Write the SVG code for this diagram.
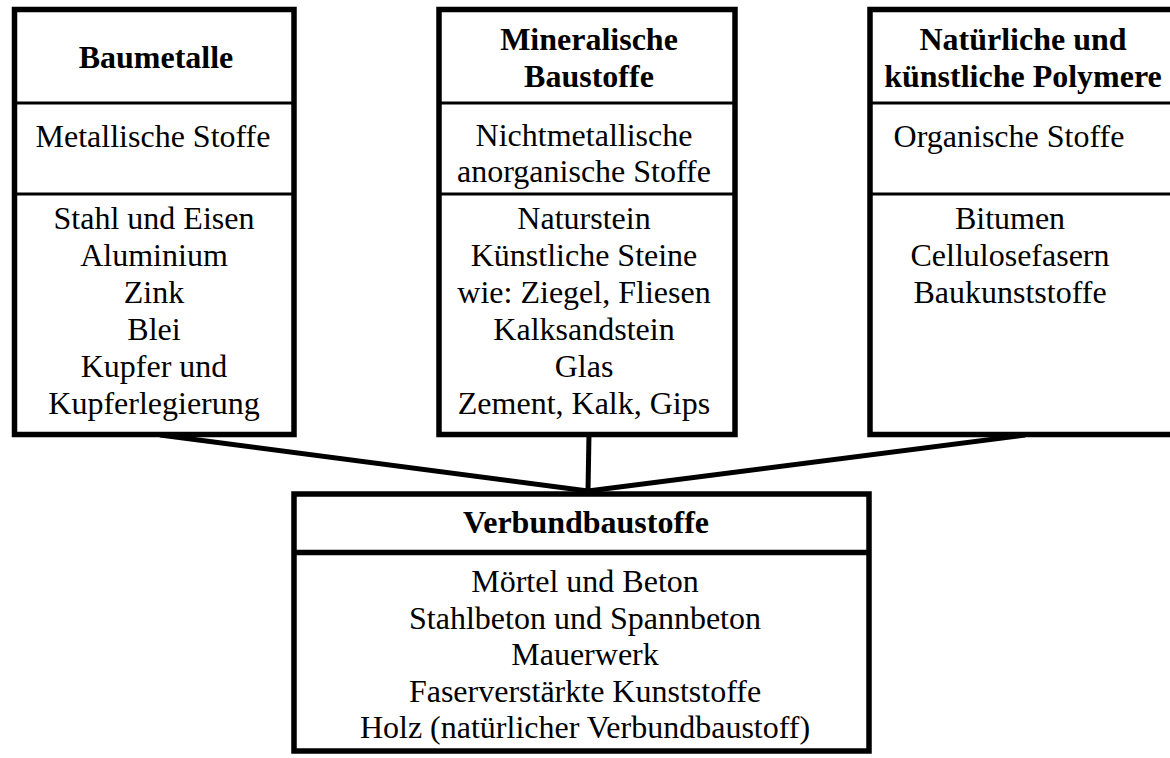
<svg xmlns="http://www.w3.org/2000/svg" width="1170" height="758" viewBox="0 0 1170 758">
<style>
.box{fill:#fff;stroke:#000;stroke-width:5.5}
.div{stroke:#000;stroke-width:3}
.divb{stroke:#000;stroke-width:5.5}
.con{stroke:#000;stroke-width:5;fill:none}
text{font-family:"Liberation Serif","Times New Roman",serif;font-size:32px;fill:#000;text-anchor:middle}
.h{font-weight:bold}
</style>
<rect width="1170" height="758" fill="#fff"/>
<g id="connectors">
<line class="con" x1="160" y1="435" x2="588" y2="491"/>
<line class="con" x1="589" y1="434" x2="588" y2="491"/>
<line class="con" x1="1025" y1="435" x2="588" y2="491"/>
</g>
<g id="baumetalle">
<rect class="box" x="14.5" y="9.5" width="279.5" height="425"/>
<line class="div" x1="14.5" y1="103" x2="294" y2="103"/>
<line class="div" x1="14.5" y1="194" x2="294" y2="194"/>
<text class="h" x="156" y="68">Baumetalle</text>
<text x="153" y="147">Metallische Stoffe</text>
<text x="154" y="229">Stahl und Eisen</text>
<text x="154" y="266">Aluminium</text>
<text x="154" y="303">Zink</text>
<text x="154" y="340">Blei</text>
<text x="154" y="377">Kupfer und</text>
<text x="154" y="414">Kupferlegierung</text>
</g>
<g id="mineralische">
<rect class="box" x="439" y="9.5" width="296" height="425"/>
<line class="div" x1="439" y1="103" x2="735" y2="103"/>
<line class="div" x1="439" y1="194" x2="735" y2="194"/>
<text class="h" x="589" y="50">Mineralische</text>
<text class="h" x="589" y="87">Baustoffe</text>
<text x="584" y="146">Nichtmetallische</text>
<text x="584" y="182">anorganische Stoffe</text>
<text x="584" y="229">Naturstein</text>
<text x="584" y="266">Künstliche Steine</text>
<text x="584" y="303">wie: Ziegel, Fliesen</text>
<text x="584" y="340">Kalksandstein</text>
<text x="584" y="377">Glas</text>
<text x="584" y="414">Zement, Kalk, Gips</text>
</g>
<g id="polymere">
<rect class="box" x="870" y="9.5" width="303" height="425"/>
<line class="div" x1="870" y1="103" x2="1173" y2="103"/>
<line class="div" x1="870" y1="194" x2="1173" y2="194"/>
<text class="h" x="1023" y="50">Natürliche und</text>
<text class="h" x="1023" y="87">künstliche Polymere</text>
<text x="1009" y="147">Organische Stoffe</text>
<text x="1010" y="229">Bitumen</text>
<text x="1010" y="266">Cellulosefasern</text>
<text x="1010" y="303">Baukunststoffe</text>
</g>
<g id="verbundbaustoffe">
<rect class="box" x="294" y="494" width="575" height="257"/>
<line class="divb" x1="294" y1="552.5" x2="869" y2="552.5"/>
<text class="h" x="586" y="533">Verbundbaustoffe</text>
<text x="585" y="592">Mörtel und Beton</text>
<text x="585" y="629">Stahlbeton und Spannbeton</text>
<text x="585" y="665">Mauerwerk</text>
<text x="585" y="702">Faserverstärkte Kunststoffe</text>
<text x="585" y="738">Holz (natürlicher Verbundbaustoff)</text>
</g>
</svg>
